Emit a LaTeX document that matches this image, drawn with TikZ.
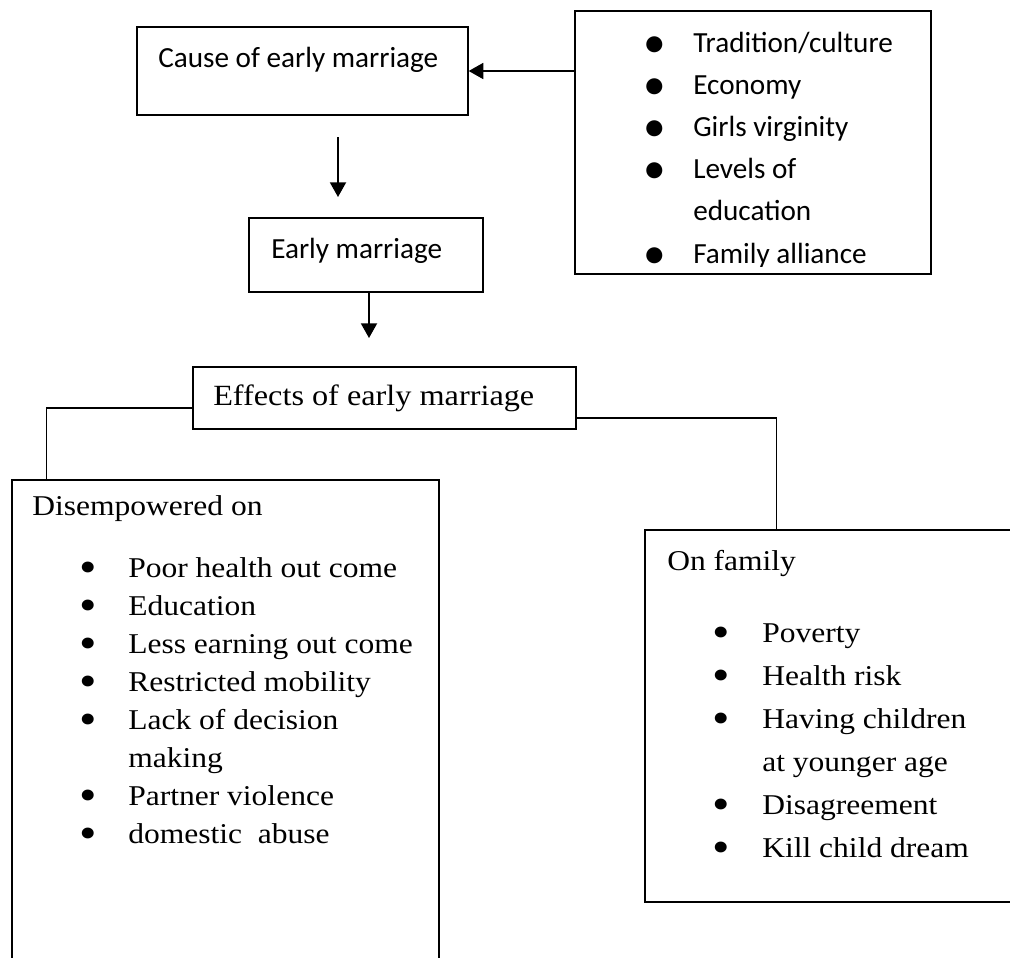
\documentclass[tikz,border=0pt]{standalone}
\usepackage{fontspec}
\newfontfamily\calfont{Carlito}
\newfontfamily\romfont[FakeStretch=1.1]{Liberation Serif}
\usepackage{tikz}
\usetikzlibrary{arrows.meta,calc}

\newcommand{\bigbul}{\raisebox{-4pt}{\fontsize{34}{34}\selectfont\textbullet}}
\newcommand{\bul}[2][36.75pt]{\makebox[#1][l]{\bigbul}#2}
\newcommand{\cont}[2][36.75pt]{\hspace*{#1}#2}

\begin{document}
\begin{tikzpicture}[x=0.75pt, y=-0.75pt,
  box/.style={draw, line width=1pt, inner sep=0pt},
  txt/.style={inner sep=0pt, anchor=base west, align=left},
  arr/.style={line width=1.4pt, -{Triangle[width=12pt,length=11pt]}},
  link/.style={line width=1pt}]
\clip (0,0) rectangle (1010,957);
% Causes
\node[box, minimum width=248.25pt, minimum height=66pt] (cause) at (302.5,71) {};
\node[txt, font=\calfont\fontsize{21.9}{26}\selectfont] (causet) at (158,67) {Cause of early marriage};
\node[box, minimum width=267pt, minimum height=197.25pt] (list) at (753,142.5) {};
\begin{scope}
\clip (575,11) rectangle (931,266);
\node[txt, font=\calfont\fontsize{21.9}{31.65}\selectfont] (listt) at (643,263)
  {\bul[37.5pt]{Tradition/culture}\\ \bul[37.5pt]{Economy}\\ \bul[37.5pt]{Girls virginity}\\
   \bul[37.5pt]{Levels of}\\ \cont[37.5pt]{education}\\ \bul[37.5pt]{Family alliance}};
\end{scope}
\draw[arr] (list.west |- cause.east) -- (cause.east);
% Early marriage
\coordinate (c1) at (338,137);
\coordinate (c2) at (338,197);
\draw[arr] (c1) -- (c2);
\node[box, minimum width=175.5pt, minimum height=55.5pt] (early) at (366,255) {};
\node[txt, font=\calfont\fontsize{21.9}{26}\selectfont] (earlyt) at (271,258) {Early marriage};
\coordinate (e1) at (369,338);
\draw[arr] (early.south -| e1) -- (e1);
% Effects
\node[box, minimum width=287.25pt, minimum height=46.5pt] (eff) at (384.5,398) {};
\node[txt, font=\romfont\fontsize{22}{26}\selectfont] (efft) at (213,405) {Effects of early marriage};
% Disempowered
\node[box, minimum width=320.25pt, minimum height=375pt] (dis) at (225.5,730) {};
\node[txt, font=\romfont\fontsize{21.5}{26}\selectfont] (dist) at (32,515) {Disempowered on};
\node[txt, font=\romfont\fontsize{21.5}{28.5}\selectfont] (disl) at (79,843)
  {\bul{Poor health out come}\\ \bul{Education}\\ \bul{Less earning out come}\\
   \bul{Restricted mobility}\\ \bul{Lack of decision}\\ \cont{making}\\
   \bul{Partner violence}\\ \bul{domestic\ \ abuse}};
\draw[link] ($(eff.west)+(0,10)$) -| ($(dis.north west)+(35,0)$);
% Family
\node[box, minimum width=285pt, minimum height=279pt] (fam) at (835,716) {};
\node[txt, font=\romfont\fontsize{21.5}{26}\selectfont] (famt) at (667,570) {On family};
\node[txt, font=\romfont\fontsize{21.5}{32.25}\selectfont] (faml) at (712,857)
  {\bul[37.5pt]{Poverty}\\ \bul[37.5pt]{Health risk}\\ \bul[37.5pt]{Having children}\\
   \cont[37.5pt]{at younger age}\\ \bul[37.5pt]{Disagreement}\\ \bul[37.5pt]{Kill child dream}};
\draw[link] ($(eff.east)+(0,20)$) -| ($(fam.north west)+(132,0)$);
\end{tikzpicture}
\end{document}
